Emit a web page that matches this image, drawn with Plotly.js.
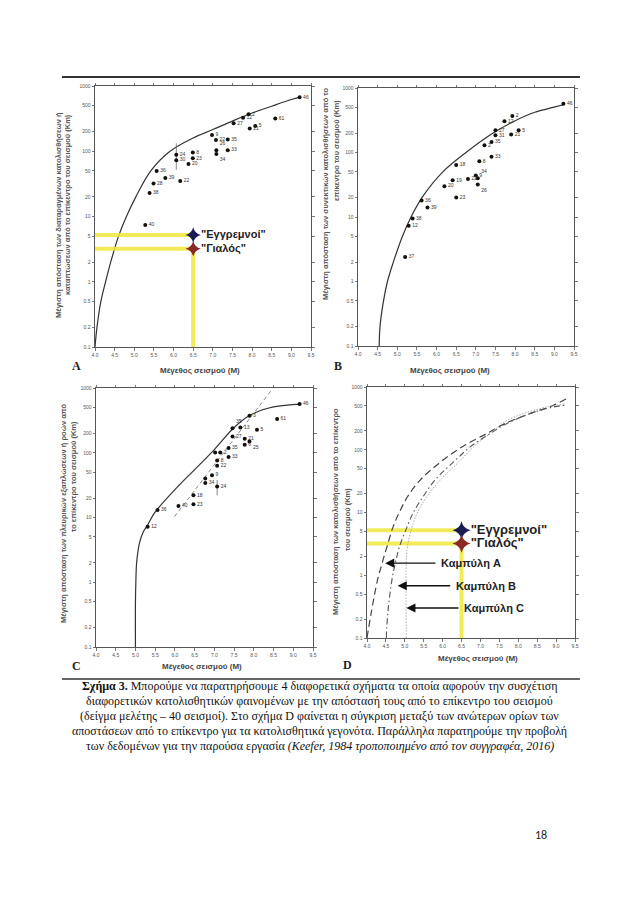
<!DOCTYPE html>
<html><head><meta charset="utf-8">
<script src="https://cdn.plot.ly/plotly-3.0.1.min.js"></script>
<style>html,body{margin:0;padding:0;background:#fff;}#chart{width:638px;height:903px;}</style>
</head><body><div id="chart"></div>
<script>
// ---------- axes ----------
const magRange = [4.0, 9.5];
const distRange = [0.1, 1000];
const magTicks = [4.0,4.5,5.0,5.5,6.0,6.5,7.0,7.5,8.0,8.5,9.0,9.5];
const magTickText = ["4.0","4.5","5.0","5.5","6.0","6.5","7.0","7.5","8.0","8.5","9.0","9.5"];
const distTicks = [0.1,0.2,0.5,1,2,5,10,20,50,100,200,500,1000];
const distTickText = ["0.1","0.2","0.5","1","2","5","10","20","50","100","200","500","1000"];

// ---------- Panel A ----------
const aMag  = [9.21,8.59,7.91,7.77,7.53,7.94,8.08,6.98,7.08,7.38,7.09,7.09,7.38,6.07,6.07,6.49,6.49,6.38,6.17,5.57,5.79,5.49,5.39,5.28];
const aDist = [670,319,368,327,268,224,244,177,149,152,104,91,104,88,73,96,78,64,35,50,39,32,23,7.4];
const aLabel= ["46","61","2","12","27","21","5","9","22","35","26","34","33","24","30","8","23","20","22","36","39","28","38","40"];
const aCurveMag  = [4.0,4.05,4.15,4.27,4.4,4.6,4.8,5.04,5.42,5.91,6.5,7.0,7.5,8.0,8.5,9.0,9.23];
const aCurveDist = [0.1,0.2,0.5,1,2,5,10,20,50,100,160,215,290,385,490,620,680];
const aErrMag = [6.07,6.07];
const aErrDist = [52,132];

// ---------- Panel B ----------
const bMag  = [9.23,7.93,7.73,7.5,7.5,8.09,7.9,7.22,7.4,7.4,7.09,6.5,7.0,7.05,7.05,6.8,6.41,6.2,6.5,5.62,5.77,5.39,5.29,5.2];
const bDist = [572,368,305,221,185,221,190,129,146,86,73,64,44,40,32,39,37,30,20,18,14,9.5,7.3,2.4];
const bLabel= ["46","2","12","27","31","5","21","2","35","33","8","18","9","34","26","22","19","20","23","36","39","38","12","37"];
const bCurveMag  = [4.54,4.56,4.65,4.75,4.9,5.13,5.35,5.63,6.16,6.75,7.44,7.95,8.5,8.97,9.27];
const bCurveDist = [0.1,0.2,0.5,1,2,5,10,20,50,100,200,300,420,500,560];

// ---------- Panel C ----------
const cMag  = [9.16,8.59,7.89,8.08,7.46,7.66,7.46,7.77,7.89,7.77,7.36,7.15,7.02,7.36,7.07,7.07,6.94,6.77,6.77,7.07,6.47,6.47,6.09,5.56,5.31];
const cDist = [566,331,373,226,240,246,179,164,149,133,118,101,101,86,76,63,45,40,34,30,22,16,15,13,7.2];
const cLabel= ["46","61","3","5","35","13","27","21","25","6","35","2","","33","8","22","9","","34","24","18","23","40","36","12"];
const cCurveMag  = [5.0,5.0,5.01,5.03,5.1,5.2,5.3,5.45,5.6,6.0,6.5,7.0,7.5,7.9,8.5,9.2];
const cCurveDist = [0.1,0.5,1.0,2,4,6,7.5,11,14.5,27,55,112,245,380,510,565];
const cTrendMag  = [5.99,8.47];
const cTrendDist = [10.3,966];
const cErrMag = [7.07,7.07];
const cErrDist = [22,38];

// ---------- Panel D ----------
const dAMag  = [4.0,4.11,4.28,4.4,4.53,4.69,4.84,5.07,5.41,5.89,6.51,7.17,7.65,8.31,8.93,9.28];
const dADist = [0.1,0.25,0.85,1.56,2.87,5.9,9.6,17.8,33,60,111,182,262,377,511,652];
const dBMag  = [4.51,4.55,4.66,4.75,4.86,5.06,5.21,5.48,5.8,6.24,6.73,7.26,7.7,8.31,8.93,9.24];
const dBDist = [0.1,0.25,0.85,1.56,2.87,5.9,9.6,17.8,33,60,111,182,262,377,481,511];
const dCMag  = [5.04,5.04,5.07,5.16,5.32,5.58,5.94,6.38,6.82,7.35,7.7,8.14,8.75,9.24];
const dCDist = [0.1,1.76,2.87,5.1,9.6,17.8,33,60,111,203,293,377,481,540];
const curveNames = ["Καμπύλη A","Καμπύλη B","Καμπύλη C"];
const arrowHeadMag = [4.48,4.81,5.04];
const arrowTailMag = [5.85,6.24,6.46];
const arrowDist = [1.56,0.68,0.30];

// ---------- study sites ----------
const sites = ["\"Εγγρεμνοί\"","\"Γιαλός\""];
const siteMag = [6.5,6.5];
const siteDist = [5.2,3.2];
const siteColors = ["#1c1c55","#8a2a22"];

// ---------- caption ----------
const captionLines = [
 "<b>Σχήμα 3.</b> Μπορούμε να παρατηρήσουμε 4 διαφορετικά σχήματα τα οποία αφορούν την συσχέτιση",
 "διαφορετικών κατολισθητικών φαινομένων με την απόστασή τους από το επίκεντρο του σεισμού",
 "(δείγμα μελέτης – 40 σεισμοί). Στο σχήμα D φαίνεται η σύγκριση μεταξύ των ανώτερων ορίων των",
 "αποστάσεων από το επίκεντρο για τα κατολισθητικά γεγονότα. Παράλληλα παρατηρούμε την προβολή",
 "των δεδομένων για την παρούσα εργασία <i>(Keefer, 1984 τροποποιημένο από τον συγγραφέα, 2016)</i>"
];

// ---------- layout helpers ----------
const W = 638, H = 903;
const px = x => x / W;
const py = y => 1 - y / H;
const FONT = "Liberation Sans, Arial, sans-serif";
const AX = "#555";

function xAx(x0, x1, anchor) {
  return {domain:[px(x0),px(x1)], range:magRange, tickvals:magTicks, ticktext:magTickText,
    ticks:"outside", ticklen:2.5, tickwidth:0.8, tickcolor:AX, showline:true, linecolor:AX, linewidth:1,
    mirror:"ticks", showgrid:false, zeroline:false, tickfont:{size:5, color:AX, family:FONT}, anchor:anchor, fixedrange:true};
}
function yAx(y0, y1, anchor) {
  return {domain:[py(y1),py(y0)], type:"log", range:[Math.log10(distRange[0]),Math.log10(distRange[1])],
    tickvals:distTicks, ticktext:distTickText,
    ticks:"outside", ticklen:2.5, tickwidth:0.8, tickcolor:AX, showline:true, linecolor:AX, linewidth:1,
    mirror:"ticks", showgrid:false, zeroline:false, tickfont:{size:5, color:AX, family:FONT}, anchor:anchor, fixedrange:true};
}

const traces = [];
const curveLine = {color:"#333", width:1.2, shape:"spline", smoothing:1};
function pts(xa, ya, m, d, lab, posOverride) {
  const pos = lab.map((_, i) => (posOverride && posOverride[i]) || "middle right");
  traces.push({x:m, y:d, text:lab, xaxis:xa, yaxis:ya, mode:"markers+text", type:"scatter",
    textposition:pos, textfont:{size:5, color:"#333", family:FONT},
    marker:{size:4, color:"#111"}, hoverinfo:"skip", cliponaxis:false});
}
function line(xa, ya, m, d, style) {
  traces.push({x:m, y:d, xaxis:xa, yaxis:ya, mode:"lines", type:"scatter", line:style, hoverinfo:"skip"});
}
function siteMarks(xa, ya, fontSize) {
  const yel = {color:"rgba(240,232,60,0.85)", width:4};
  for (let i = 0; i < sites.length; i++) {
    line(xa, ya, [magRange[0], siteMag[i]], [siteDist[i], siteDist[i]], yel);
  }
  line(xa, ya, [siteMag[1], siteMag[1]], [siteDist[1], distRange[0]], yel);
  traces.push({x:siteMag, y:siteDist, text:sites, xaxis:xa, yaxis:ya, mode:"markers+text", type:"scatter",
    textposition:"middle right", textfont:{size:fontSize, color:"#222", family:FONT, weight:"bold"},
    marker:{symbol:"star-diamond", size:fontSize, color:siteColors, line:{width:0}}, hoverinfo:"skip", cliponaxis:false});
}

// Panel A
line("x","y", aCurveMag, aCurveDist, curveLine);
line("x","y", aErrMag, aErrDist, {color:"#666", width:0.8});
pts("x","y", aMag, aDist, aLabel, {10:"top right", 11:"bottom right"});
siteMarks("x","y", 11);
// Panel B
line("x2","y2", bCurveMag, bCurveDist, curveLine);
pts("x2","y2", bMag, bDist, bLabel, {13:"top right", 14:"bottom right"});
// Panel C
line("x3","y3", cCurveMag, cCurveDist, curveLine);
line("x3","y3", cTrendMag, cTrendDist, {color:"#888", width:1, dash:"4px,3px"});
line("x3","y3", cErrMag, cErrDist, {color:"#666", width:0.8});
pts("x3","y3", cMag, cDist, cLabel, {4:"top right", 8:"bottom right"});
// Panel D
siteMarks("x4","y4", 13);
line("x4","y4", dAMag, dADist, {color:"#444", width:1.2, dash:"7px,4px", shape:"spline", smoothing:1});
line("x4","y4", dBMag, dBDist, {color:"#555", width:1.1, dash:"6px,3px,1.5px,3px", shape:"spline", smoothing:1});
line("x4","y4", dCMag, dCDist, {color:"#aaa", width:1, dash:"1.5px,1.5px", shape:"spline", smoothing:1});

// ---------- annotations ----------
const ann = [];
function txt(x, y, t, o) {
  ann.push(Object.assign({xref:"paper", yref:"paper", x:px(x), y:py(y), text:t, showarrow:false,
    xanchor:"center", yanchor:"middle", font:{family:FONT, size:8, color:"#444"}}, o || {}));
}
// panel letters
const letterFont = {family:"Liberation Serif, serif", size:12, color:"#222"};
txt(76, 366, "<b>A</b>", {font:letterFont});
txt(338, 366, "<b>B</b>", {font:letterFont});
txt(76, 666, "<b>C</b>", {font:letterFont});
txt(347, 665, "<b>D</b>", {font:letterFont});
// x titles
const xt = "<b>Μέγεθος σεισμού (M)</b>";
txt(200, 370, xt); txt(450, 370, xt); txt(202, 666, xt); txt(478, 658, xt);
// y titles
const yf = {textangle:-90, font:{family:FONT, size:7.5, color:"#555"}};
txt(58, 215, "<b>Μέγιστη απόσταση των διαταραγμένων κατολισθήσεων ή</b>", yf);
txt(67, 205, "<b>καταπτώσεων από το επίκεντρο του σεισμού (Km)</b>", yf);
txt(325, 194, "<b>Μέγιστη απόσταση των συνεκτικών κατολισθήσεων από το</b>", yf);
txt(337, 151, "<b>επίκεντρο του σεισμού (Km)</b>", yf);
txt(63, 513, "<b>Μέγιστη απόσταση των πλευρικών εξαπλώσεων ή ροών από</b>", yf);
txt(73, 477, "<b>το επίκεντρο του σεισμού (Km)</b>", yf);
txt(335, 512, "<b>Μέγιστη απόσταση των κατολισθήσεων από το επίκεντρο</b>", yf);
txt(347, 520, "<b>του σεισμού (Km)</b>", yf);
// D arrows
for (let i = 0; i < curveNames.length; i++) {
  ann.push({xref:"x4", yref:"y4", x:arrowHeadMag[i], y:Math.log10(arrowDist[i]), axref:"x4", ayref:"pixel",
    ax:arrowTailMag[i], ay:0, showarrow:true, arrowhead:2, arrowsize:1.3, arrowwidth:1.4, arrowcolor:"#111", text:""});
  ann.push({xref:"x4", yref:"y4", x:arrowTailMag[i], y:Math.log10(arrowDist[i]), xanchor:"left", yanchor:"middle",
    xshift:2, showarrow:false, text:"<b>" + curveNames[i] + "</b>", font:{family:FONT, size:11, color:"#222"}});
}
// caption
const capY = [686, 701, 716, 731, 746];
captionLines.forEach((l, i) => txt(320, capY[i], l, {font:{family:"Liberation Serif, Times New Roman, serif", size:12, color:"#111"}}));
// page number
txt(541, 835, "18", {font:{family:"Carlito, Liberation Sans, sans-serif", size:12, color:"#222"}});

const layout = {
  width:W, height:H, margin:{l:0,r:0,t:0,b:0}, paper_bgcolor:"#fff", plot_bgcolor:"#fff", showlegend:false,
  xaxis:xAx(95,311,"y"), yaxis:yAx(86,347,"x"),
  xaxis2:xAx(358,574,"y2"), yaxis2:yAx(88,346,"x2"),
  xaxis3:xAx(96,313,"y3"), yaxis3:yAx(388,647,"x3"),
  xaxis4:xAx(367,575,"y4"), yaxis4:yAx(387,638,"x4"),
  annotations:ann,
  shapes:[
    {type:"line", xref:"paper", yref:"paper", x0:px(62), x1:px(580), y0:py(77), y1:py(77), line:{color:"#333", width:2}},
    {type:"line", xref:"paper", yref:"paper", x0:px(62), x1:px(580), y0:py(679), y1:py(679), line:{color:"#666", width:2}}
  ]
};
Plotly.newPlot("chart", traces, layout, {staticPlot:true, displayModeBar:false});
</script></body></html>
